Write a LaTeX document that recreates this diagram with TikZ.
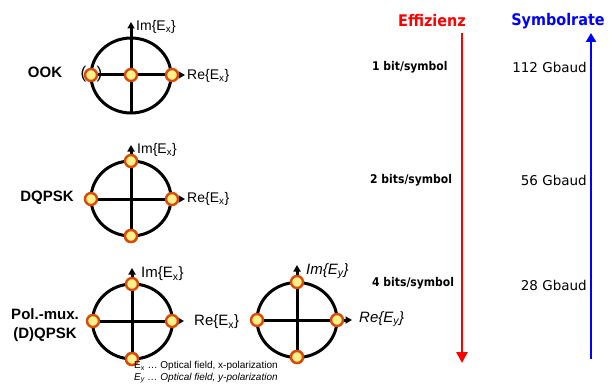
\documentclass[tikz,border=0pt]{standalone}
\usepackage{fontspec}
\setmainfont{Liberation Sans}
\newfontfamily\dvsans{DejaVu Sans}
\newfontfamily\dvcond[FakeStretch=0.9]{DejaVu Sans}
\usetikzlibrary{arrows.meta,shapes.geometric}
\definecolor{dotborder}{HTML}{D84A08}
\definecolor{dotfill}{HTML}{FFF08A}
\definecolor{effred}{HTML}{FF0000}
\definecolor{rateblue}{HTML}{0000FF}
\begin{document}
\begin{tikzpicture}[x=1pt,y=-1pt,
  ring/.style={ellipse,draw=black,line width=3pt,minimum width=80pt,minimum height=75pt,inner sep=0pt},
  ax/.style={line width=3pt,-{Triangle[length=6.5pt,width=7pt]}},
  pt/.style={circle,draw=dotborder,line width=2.4pt,fill=dotfill,minimum size=12pt,inner sep=0pt},
  axlab/.style={anchor=west,inner sep=0pt,font=\fontsize{14}{16}\selectfont},
  axlabb/.style={anchor=west,inner sep=0pt,font=\fontsize{15}{17}\selectfont},
  modlab/.style={inner sep=0pt,font=\fontsize{15}{17}\bfseries\selectfont},
  paren/.style={inner sep=0pt,font=\fontsize{17}{19}\selectfont},
  bitlab/.style={anchor=west,inner sep=0pt,font=\dvcond\fontsize{12}{14}\bfseries\selectfont},
  ratelab/.style={anchor=east,inner sep=0pt,font=\dvsans\fontsize{13.5}{15}\selectfont},
  head/.style={inner sep=0pt,font=\dvcond\fontsize{16}{18}\bfseries\selectfont},
  note/.style={anchor=west,inner sep=0pt,font=\fontsize{10}{11}\selectfont}]
\useasboundingbox (0,0) rectangle (610,385);

% ---------- OOK ----------
\node[ring] (c1) at (131,75.5) {};
\coordinate (c1top) at (131,22);
\coordinate (c1right) at (185,75);
\draw[ax] (c1.south) -- (c1top);
\node[pt] (o1l) at (91,75) {};
\draw[ax] (o1l) -- (c1right);
\node[pt] (o1c) at (131,75) {};
\node[pt] (o1r) at (172,75) {};
\node[paren] (pl) at (83.5,74) {(};
\node[paren] (pr) at (99.5,74) {)};
\node[axlab] (im1) at (136,27) {Im\{E\textsubscript{x}\}};
\node[axlab] (re1) at (187,76) {Re\{E\textsubscript{x}\}};
\node[modlab] (ook) at (45,72) {OOK};

% ---------- DQPSK ----------
\node[ring] (c2) at (131,198.5) {};
\coordinate (c2top) at (131,145);
\coordinate (c2right) at (185,199);
\node[pt] (d2b) at (131,236) {};
\draw[ax] (d2b) -- (c2top);
\node[pt] (d2l) at (91,199) {};
\draw[ax] (d2l) -- (c2right);
\node[pt] (d2t) at (131,161) {};
\node[pt] (d2r) at (172,199) {};
\node[pt] at (131,236) {};
\node[axlab] (im2) at (137,150) {Im\{E\textsubscript{x}\}};
\node[axlab] (re2) at (187,199) {Re\{E\textsubscript{x}\}};
\node[modlab] (dq) at (47,198) {DQPSK};

% ---------- Pol-mux x ----------
\node[ring] (c3) at (132.5,321.5) {};
\coordinate (c3top) at (132,268);
\coordinate (c3right) at (184,321);
\node[pt] (d3b) at (132,359) {};
\draw[ax] (d3b) -- (c3top);
\node[pt] (d3l) at (93,321) {};
\draw[ax] (d3l) -- (c3right);
\node[pt] (d3t) at (132,284) {};
\node[pt] (d3r) at (172,321) {};
\node[pt] at (132,359) {};
\node[axlabb] (im3) at (141,274) {Im\{E\textsubscript{x}\}};
\node[axlabb] (re3) at (194,322) {Re\{E\textsubscript{x}\}};
\node[modlab] (pm1) at (45,314) {Pol.-mux.};
\node[modlab] (pm2) at (45,335) {(D)QPSK};

% ---------- Pol-mux y ----------
\node[ring] (c4) at (297,320) {};
\coordinate (c4top) at (297,265);
\coordinate (c4right) at (352,320);
\node[pt] (d4b) at (297,357) {};
\draw[ax] (d4b) -- (c4top);
\node[pt] (d4l) at (257,320) {};
\draw[ax] (d4l) -- (c4right);
\node[pt] (d4t) at (297,282) {};
\node[pt] (d4r) at (337,320) {};
\node[pt] at (297,357) {};
\node[axlabb,font=\fontsize{15}{17}\itshape\selectfont] (im4) at (306,271) {Im\{E\textsubscript{y}\}};
\node[axlabb,font=\fontsize{15}{17}\itshape\selectfont] (re4) at (359,319) {Re\{E\textsubscript{y}\}};

% ---------- notes ----------
\node[note] (n1) at (134,366) {E\textsubscript{x} … Optical field, x-polarization};
\node[note,font=\fontsize{10}{11}\itshape\selectfont] (n2) at (134,378) {E\textsubscript{y} … Optical field, y-polarization};

% ---------- right side ----------
\node[head,text=effred] (eff) at (432,21) {Effizienz};
\node[head,text=rateblue] (sym) at (558,21) {Symbolrate};
\coordinate (rtop) at (462,33);
\coordinate (rbot) at (462,363);
\coordinate (btop) at (591,33);
\coordinate (bbot) at (591,359);
\draw[effred,line width=2.6pt,-{Triangle[length=11pt,width=11pt]}] (rtop) -- (rbot);
\draw[rateblue,line width=2.6pt,-{Triangle[length=9pt,width=10pt]}] (bbot) -- (btop);

\node[bitlab] (b1) at (372,67) {1 bit/symbol};
\node[bitlab] (b2) at (370,180) {2 bits/symbol};
\node[bitlab] (b4) at (372,283) {4 bits/symbol};
\node[ratelab] (r1) at (587,67) {112 Gbaud};
\node[ratelab] (r2) at (587,180) {56 Gbaud};
\node[ratelab] (r4) at (587,285) {28 Gbaud};
\end{tikzpicture}
\end{document}
